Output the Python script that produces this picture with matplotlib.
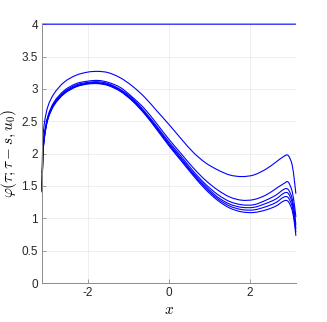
import matplotlib
matplotlib.use("Agg")
import matplotlib.pyplot as plt
import numpy as np
from matplotlib.path import Path
from matplotlib.patches import PathPatch

plt.rcParams['mathtext.fontset'] = 'cm'
plt.rcParams['axes.unicode_minus'] = False
plt.rcParams['font.family'] = ['Liberation Sans', 'DejaVu Sans']

# sample points along x (denser near the steep ends)
x = [-3.14, -3.12, -3.08, -3.0, -2.85, -2.6, -2.3, -2.0, -1.75, -1.5, -1.2, -0.9,
     -0.6, -0.3, 0.0, 0.3, 0.6, 0.9, 1.2, 1.5, 1.8, 2.1, 2.4, 2.65, 2.85, 2.95,
     3.05, 3.11, 3.14]

# initial state u0
u0 = [4.0] * len(x)

# solution curves, top to bottom
phi_1 = [1.70, 2.20, 2.48, 2.72, 2.92, 3.10, 3.21, 3.26, 3.27, 3.25, 3.17, 3.04,
         2.87, 2.66, 2.45, 2.23, 2.02, 1.86, 1.75, 1.67, 1.645, 1.67, 1.76, 1.87,
         1.96, 1.97, 1.82, 1.55, 1.38]
phi_2 = [1.48, 2.02, 2.31, 2.57, 2.79, 2.97, 3.08, 3.12, 3.13, 3.10, 3.02, 2.87,
         2.69, 2.46, 2.22, 2.00, 1.78, 1.59, 1.44, 1.33, 1.28, 1.29, 1.36, 1.46,
         1.54, 1.56, 1.41, 1.18, 1.02]
phi_3 = [1.44, 1.99, 2.28, 2.55, 2.77, 2.95, 3.06, 3.10, 3.11, 3.08, 2.99, 2.85,
         2.65, 2.42, 2.18, 1.96, 1.73, 1.53, 1.37, 1.26, 1.21, 1.21, 1.28, 1.36,
         1.45, 1.445, 1.30, 1.07, 0.90]
phi_4 = [1.42, 1.97, 2.27, 2.54, 2.755, 2.935, 3.045, 3.09, 3.095, 3.066, 2.978, 2.83,
         2.635, 2.40, 2.155, 1.93, 1.70, 1.50, 1.33, 1.22, 1.17, 1.17, 1.23, 1.30,
         1.39, 1.385, 1.24, 1.01, 0.84]
phi_5 = [1.41, 1.96, 2.26, 2.53, 2.747, 2.927, 3.037, 3.083, 3.088, 3.058, 2.969, 2.82,
         2.622, 2.385, 2.137, 1.91, 1.68, 1.475, 1.305, 1.19, 1.135, 1.13, 1.18, 1.245,
         1.33, 1.32, 1.18, 0.955, 0.785]
phi_6 = [1.40, 1.95, 2.25, 2.52, 2.74, 2.92, 3.03, 3.075, 3.08, 3.05, 2.96, 2.81,
         2.61, 2.37, 2.12, 1.89, 1.66, 1.45, 1.28, 1.16, 1.10, 1.09, 1.13, 1.19,
         1.27, 1.26, 1.12, 0.90, 0.73]

curves = [u0, phi_1, phi_2, phi_3, phi_4, phi_5, phi_6]


def smooth_path(xs, ys):
    """cubic bezier path through the points (drawing style only)"""
    xs = np.asarray(xs, float)
    ys = np.asarray(ys, float)
    n = len(xs)
    m = np.zeros(n)
    m[0] = (ys[1] - ys[0]) / (xs[1] - xs[0])
    m[-1] = (ys[-1] - ys[-2]) / (xs[-1] - xs[-2])
    for i in range(1, n - 1):
        m[i] = (ys[i + 1] - ys[i - 1]) / (xs[i + 1] - xs[i - 1])
    verts = [(xs[0], ys[0])]
    codes = [Path.MOVETO]
    for i in range(n - 1):
        h = xs[i + 1] - xs[i]
        verts += [(xs[i] + h / 3, ys[i] + m[i] * h / 3),
                  (xs[i + 1] - h / 3, ys[i + 1] - m[i + 1] * h / 3),
                  (xs[i + 1], ys[i + 1])]
        codes += [Path.CURVE4] * 3
    return Path(verts, codes)


fig = plt.figure(figsize=(3.27, 3.22), dpi=100)
ax = fig.add_axes([0.1284, 0.121, 0.7766, 0.804])

for c in curves:
    ax.add_patch(PathPatch(smooth_path(x, c), facecolor='none',
                           edgecolor=(0, 0, 1), lw=0.8, clip_on=False))

ax.set_xlim(-np.pi, np.pi)
ax.set_ylim(0, 4)
ax.set_xticks([-2, 0, 2])
ax.set_xticklabels(['-2', '0', '2'])
ax.set_yticks(np.arange(0, 4.01, 0.5))
ax.set_yticklabels(['0', '0.5', '1', '1.5', '2', '2.5', '3', '3.5', '4'])
ax.grid(True, color='#ebebeb', lw=0.6)
ax.set_axisbelow(True)
for s in ['top', 'right']:
    ax.spines[s].set_visible(False)
for s in ['left', 'bottom']:
    ax.spines[s].set_color('#8c8c8c')
    ax.spines[s].set_linewidth(0.7)
ax.tick_params(direction='in', length=3, width=0.6, color='#8c8c8c',
               labelsize=8.5, labelcolor='#262626', pad=3)
ax.set_xlabel(r'$x$', fontsize=11, labelpad=3)
ax.set_ylabel(r'$\varphi(\tau;\tau-s,u_0)$', fontsize=11, labelpad=2)

fig.savefig('out.png', dpi=100)
